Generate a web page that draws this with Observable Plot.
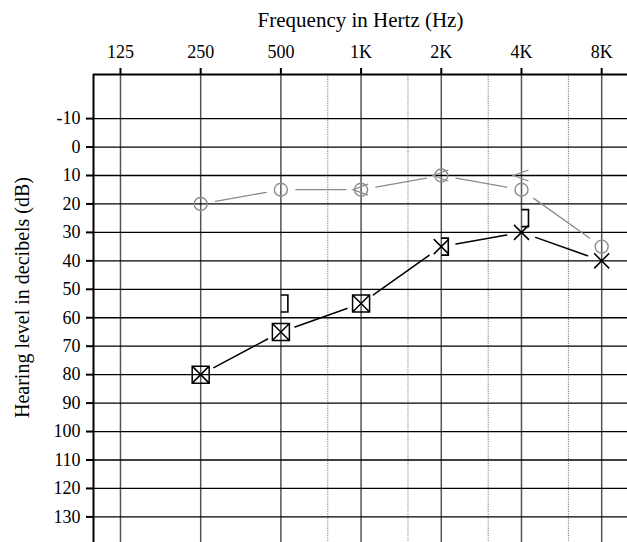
<!DOCTYPE html>
<html><head><meta charset="utf-8">
<script src="https://cdn.jsdelivr.net/npm/d3@7"></script>
<script src="https://cdn.jsdelivr.net/npm/@observablehq/plot@0.6"></script>
<style>body{margin:0;background:#fff} #chart svg{display:block}</style>
</head><body><div id="chart"></div>
<script>
const freqs = [125, 250, 500, 1000, 2000, 4000, 8000];
const freqLabels = ["125", "250", "500", "1K", "2K", "4K", "8K"];
const midFreqs = [750, 1500, 3000, 6000];
const dbTicks = [-10, 0, 10, 20, 30, 40, 50, 60, 70, 80, 90, 100, 110, 120, 130];
const rightFreq = [250, 500, 1000, 2000, 4000, 8000];
const rightAir = [20, 15, 15, 10, 15, 35];
const rightBoneFreq = [1000, 2000, 4000];
const rightBone = [15, 10, 10];
const leftFreq = [250, 500, 1000, 2000, 4000, 8000];
const leftAir = [80, 65, 55, 35, 30, 40];
const leftBoxed = [true, true, true, false, false, false];
const leftBoneFreq = [500, 2000, 4000];
const leftBone = [55, 35, 25];
const xDomain = [99, 10000];
const yDomain = [-25.5, 139];

const rightPts = rightFreq.map((f, i) => ({f, db: rightAir[i]}));
const leftPts = leftFreq.map((f, i) => ({f, db: leftAir[i], boxed: leftBoxed[i]}));
const pairs = pts => pts.slice(1).map((p, i) => ({f1: pts[i].f, d1: pts[i].db, f2: p.f, d2: p.db}));
const rBone = rightBoneFreq.map((f, i) => ({f, db: rightBone[i]}));
const lBone = leftBoneFreq.map((f, i) => ({f, db: leftBone[i]}));
const xLabelData = freqs.map((f, i) => ({f, label: freqLabels[i]}));

const symLt = {draw(c) { c.moveTo(7, -5.5); c.lineTo(-8, 0); c.lineTo(7, 5.5); }};
const symBoxX = {draw(c) {
  const s = 8.5;
  c.moveTo(-s, -s); c.lineTo(s, -s); c.lineTo(s, s); c.lineTo(-s, s); c.closePath();
  c.moveTo(-s, -s); c.lineTo(s, s); c.moveTo(s, -s); c.lineTo(-s, s);
}};
const symX = {draw(c) { const s = 7.5; c.moveTo(-s, -s); c.lineTo(s, s); c.moveTo(s, -s); c.lineTo(-s, s); }};
const symBracket = {draw(c) { c.moveTo(0, -8.5); c.lineTo(7, -8.5); c.lineTo(7, 8.5); c.lineTo(0, 8.5); }};

const grey = "#8c8c8c";
const font = "Liberation Serif";

const chart = Plot.plot({
  width: 627, height: 542,
  marginLeft: 93, marginRight: 0, marginTop: 74, marginBottom: 0,
  style: {fontFamily: font, background: "white", color: "black", overflow: "visible"},
  x: {type: "log", domain: xDomain},
  y: {domain: yDomain, reverse: true},
  marks: [
    Plot.ruleX(midFreqs, {stroke: "#777", strokeWidth: 1, strokeDasharray: "1.2,1.2"}),
    Plot.ruleX(freqs, {stroke: "#555", strokeWidth: 1.5}),
    Plot.ruleY(dbTicks, {stroke: "black", strokeWidth: 1.3}),
    Plot.ruleX([xDomain[0]], {stroke: "black", strokeWidth: 2}),
    Plot.ruleY([yDomain[0]], {stroke: "black", strokeWidth: 2}),
    Plot.axisX(freqs, {anchor: "top", tickSize: 7, strokeWidth: 2, label: null, tickFormat: () => ""}),
    Plot.text(xLabelData, {x: "f", text: "label", frameAnchor: "top", lineAnchor: "middle", textAnchor: "middle", dy: -22, fontSize: 18, fill: "black"}),
    Plot.axisY(dbTicks, {anchor: "left", tickSize: 7, tickPadding: 6, strokeWidth: 2, fontSize: 18, label: null,
      tickFormat: d => String(d)}),
    Plot.text(["Frequency in Hertz (Hz)"], {frameAnchor: "top", lineAnchor: "middle", textAnchor: "middle", dy: -54, fontSize: 21, fill: "black"}),
    Plot.text(["Hearing level in decibels (dB)"], {frameAnchor: "left", lineAnchor: "middle", textAnchor: "middle", dx: -71, dy: -11, rotate: -90, fontSize: 20, fill: "black"}),
    Plot.arrow(pairs(rightPts), {x1: "f1", y1: "d1", x2: "f2", y2: "d2", inset: 15, headLength: 0, bend: 0, stroke: grey, strokeWidth: 1.3}),
    Plot.arrow(pairs(leftPts), {x1: "f1", y1: "d1", x2: "f2", y2: "d2", inset: 15, headLength: 0, bend: 0, stroke: "black", strokeWidth: 1.5}),
    Plot.dot(rightPts, {x: "f", y: "db", r: 6.5, stroke: grey, strokeWidth: 1.4, fill: "none"}),
    Plot.dot(rBone, {x: "f", y: "db", symbol: symLt, stroke: grey, strokeWidth: 1.3, fill: "none"}),
    Plot.dot(leftPts, {x: "f", y: "db", symbol: d => d.boxed ? symBoxX : symX, stroke: "black", strokeWidth: 1.5, fill: "none"}),
    Plot.dot(lBone, {x: "f", y: "db", symbol: symBracket, stroke: "black", strokeWidth: 1.6, fill: "none"})
  ]
});
document.getElementById("chart").appendChild(chart);
</script>
</body></html>
